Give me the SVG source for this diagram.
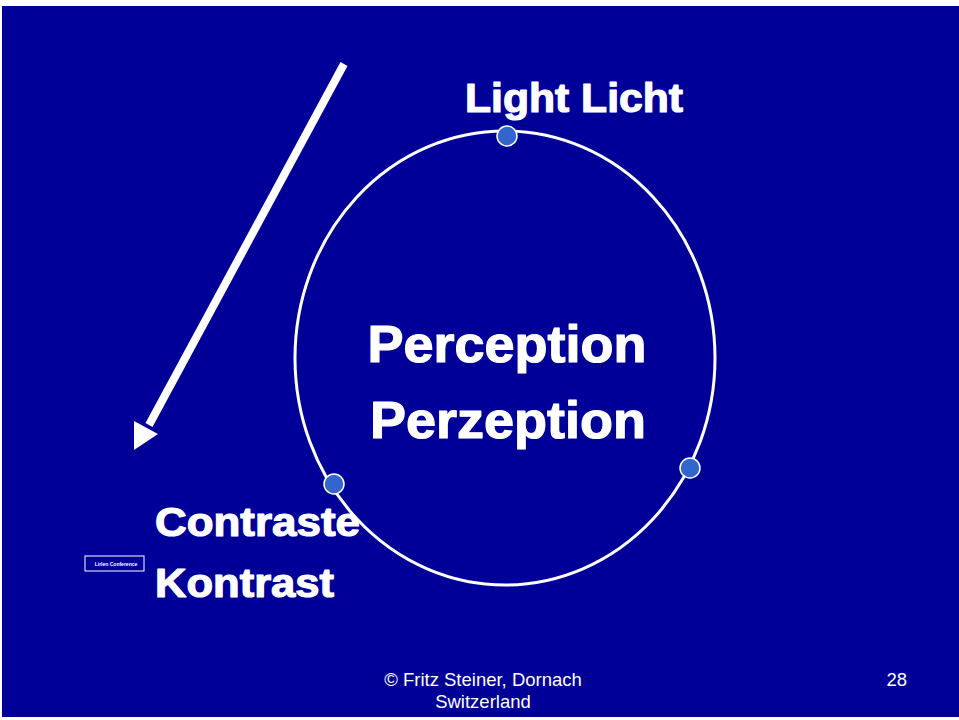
<svg xmlns="http://www.w3.org/2000/svg" width="959" height="720" viewBox="0 0 959 720">
<defs>
<style>
.big{font-family:"Liberation Sans",Arial,sans-serif;font-weight:bold;fill:#fff;stroke:#fff;stroke-width:1.2;stroke-linejoin:round}
.foot{font-family:"Liberation Sans",Arial,sans-serif;fill:#fff;font-size:18.5px}
.dot{fill:#3366cc;stroke:#fff;stroke-width:1.5}
</style>
</defs>
<rect x="0" y="0" width="959" height="720" fill="#fff"/>
<rect x="2" y="6" width="957" height="711" fill="#000099"/>
<g id="connectors">
<line x1="344" y1="64" x2="149" y2="425" stroke="#fff" stroke-width="8"/>
<polygon points="134,450 134,421 158,434" fill="#fff"/>
</g>
<g id="cycle">
<ellipse cx="505" cy="358" rx="210" ry="227" fill="none" stroke="#fff" stroke-width="3"/>
</g>
<g id="perception">
<text class="big" x="507" y="362" font-size="52" text-anchor="middle" textLength="279" lengthAdjust="spacingAndGlyphs">Perception</text>
<text class="big" x="508" y="438" font-size="52" text-anchor="middle" textLength="276" lengthAdjust="spacingAndGlyphs">Perzeption</text>
</g>
<g id="light">
<circle class="dot" cx="507" cy="136" r="10"/>
<text class="big" x="465" y="112" font-size="40" textLength="218" lengthAdjust="spacingAndGlyphs">Light Licht</text>
</g>
<g id="contrast">
<circle class="dot" cx="334" cy="484" r="10"/>
<text class="big" x="155" y="536" font-size="40" textLength="205" lengthAdjust="spacingAndGlyphs">Contraste</text>
<text class="big" x="155" y="597" font-size="40" textLength="179" lengthAdjust="spacingAndGlyphs">Kontrast</text>
</g>
<g id="third">
<circle class="dot" cx="690" cy="468" r="10"/>
</g>
<g id="label">
<rect x="85" y="556" width="59" height="15" fill="none" stroke="#fff" stroke-width="1"/>
<text x="116" y="566" font-family="Liberation Sans,Arial,sans-serif" font-weight="bold" font-size="5" fill="#fff" text-anchor="middle">Lirlen Conference</text>
</g>
<g id="footer">
<text class="foot" x="483" y="686" text-anchor="middle">© Fritz Steiner, Dornach</text>
<text class="foot" x="483" y="708" text-anchor="middle">Switzerland</text>
<text class="foot" x="907" y="686" text-anchor="end">28</text>
</g>
</svg>
